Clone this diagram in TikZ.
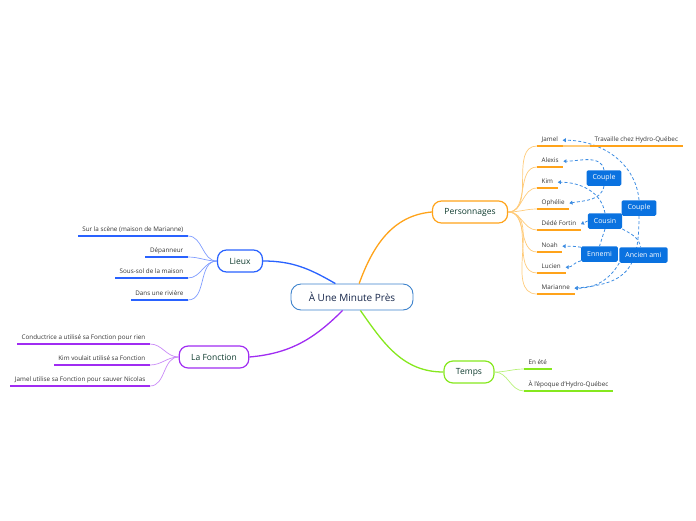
\documentclass[tikz,border=0pt]{standalone}
\usepackage{fontspec}
\setmainfont{Open Sans}
\usetikzlibrary{arrows.meta}
\usetikzlibrary{backgrounds}

\definecolor{maincol}{HTML}{3C82CC}
\definecolor{roottxt}{HTML}{16264A}
\definecolor{toptxt}{HTML}{0E3B2E}
\definecolor{subtxt}{HTML}{333333}
\definecolor{orgcol}{HTML}{FFA31A}
\definecolor{orglight}{HTML}{FFCB7A}
\definecolor{bluecol}{HTML}{2962FF}
\definecolor{bluelight}{HTML}{7F9CFF}
\definecolor{purcol}{HTML}{A02CF2}
\definecolor{purlight}{HTML}{C98AF7}
\definecolor{grncol}{HTML}{86E81E}
\definecolor{grnlight}{HTML}{B8F27A}
\definecolor{relcol}{HTML}{0A72E0}
\definecolor{rellink}{HTML}{3C8CE2}

\begin{document}
\begin{tikzpicture}
			[x=1pt, y=-1pt,
			root/.style = {draw=maincol, line width=0.9pt, rounded corners=10pt, fill=white, text=roottxt, font=\fontsize{10}{12}\selectfont, minimum width=122pt, minimum height=26pt},
			topic/.style = {draw=#1, line width=1.2pt, rounded corners=9pt, fill=white, text=toptxt, font=\fontsize{8.5}{10}\selectfont, minimum height=22pt, inner xsep=12pt},
			sub/.style = {font=\fontsize{6.3}{7}\selectfont, text=subtxt, inner xsep=4.5pt, inner ysep=2.5pt, text height=4.7pt, text depth=1.5pt},
			ln/.style = {line width=1.6pt, #1},
			fan/.style = {line width=0.7pt, #1},
			branch/.style = {line width=1.3pt, #1},
			rel/.style = {fill=relcol, text=white, rounded corners=1.5pt, font=\fontsize{7}{8}\selectfont, inner xsep=6pt, minimum height=15.5pt},
			relline/.style = {rellink, line width=0.8pt, dash pattern=on 3pt off 2.2pt},
			relarrow/.style = {relline, -{Triangle[length=3.2pt,width=3.8pt]}}]
			\useasboundingbox (0,0) rectangle (696,520);
			% centre et branches
			\node[root] (root) at (352,297) {À Une Minute Près};
			\node[topic=orgcol] (pers) at (470,212) {Personnages};
			\node[topic=bluecol] (lieux) at (240,261) {Lieux};
			\node[topic=purcol] (fonction) at (214,357) {La Fonction};
			\node[topic=grncol] (temps) at (469,372) {Temps};
			\draw[branch=orgcol] (root.62) to[out=70,in=185] (pers.west);
			\draw[branch=bluecol] (root.141) to[out=150,in=0] (lieux.east);
			\draw[branch=purcol] (root.235) to[out=225,in=5] (fonction.east);
			\draw[branch=grncol] (root.302) to[out=-55,in=180] (temps.west);
			% Personnages
			\node[sub, anchor=south west] (jamel) at (537,146) {Jamel};
			\node[sub, anchor=south west] (alexis) at (537,167) {Alexis};
			\node[sub, anchor=south west] (kim) at (537,188) {Kim};
			\node[sub, anchor=south west] (ophelie) at (537,209) {Ophélie};
			\node[sub, anchor=south west] (dede) at (537,230) {Dédé Fortin};
			\node[sub, anchor=south west] (noah) at (537,252) {Noah};
			\node[sub, anchor=south west] (lucien) at (537,273) {Lucien};
			\node[sub, anchor=south west] (marianne) at (537,294) {Marianne};
			\node[sub, anchor=south west] (travaille) at (590,146) {Travaille chez Hydro-Québec};
			\foreach \n in {jamel,alexis,kim,ophelie,dede,noah,lucien,marianne} {
				\draw[fan=orglight] (pers.east) to[out=0,in=180] (\n.south west);
				\draw[ln=orgcol] (\n.south west) -- (\n.south east);
			}
			\draw[ln=orglight] (jamel.south east) -- (travaille.south west);
			\draw[ln=orgcol] (travaille.south west) -- (travaille.south east);
			% Lieux
			\node[sub, anchor=south east] (scene) at (188,236) {Sur la scène (maison de Marianne)};
			\node[sub, anchor=south east] (depanneur) at (188,257) {Dépanneur};
			\node[sub, anchor=south east] (soussol) at (188,278) {Sous-sol de la maison};
			\node[sub, anchor=south east] (riviere) at (188,300) {Dans une rivière};
			\foreach \n in {scene,depanneur,soussol,riviere} {
				\draw[fan=bluelight] (lieux.west) to[out=180,in=0] (\n.south east);
				\draw[ln=bluecol] (\n.south east) -- (\n.south west);
			}
			% La Fonction
			\node[sub, anchor=south east] (conductrice) at (150,344) {Conductrice a utilisé sa Fonction pour rien};
			\node[sub, anchor=south east] (kimf) at (150,365) {Kim voulait utilisé sa Fonction};
			\node[sub, anchor=south east] (jamelf) at (150,386) {Jamel utilise sa Fonction pour sauver Nicolas};
			\foreach \n in {conductrice,kimf,jamelf} {
				\draw[fan=purlight] (fonction.west) to[out=180,in=0] (\n.south east);
				\draw[ln=purcol] (\n.south east) -- (\n.south west);
			}
			% Temps
			\node[sub, anchor=south west] (ete) at (524,369) {En été};
			\node[sub, anchor=south west] (epoque) at (524,391) {À l'époque d'Hydro-Québec};
			\foreach \n in {ete,epoque} {
				\draw[fan=grnlight] (temps.east) to[out=0,in=180] (\n.south west);
				\draw[ln=grncol] (\n.south west) -- (\n.south east);
			}
			% relations
			\node[rel] (couple1) at (604,178) {Couple};
			\node[rel] (couple2) at (639,208) {Couple};
			\node[rel] (cousin) at (605,221) {Cousin};
			\node[rel] (ennemi) at (599.5,254) {Ennemi};
			\node[rel] (ancien) at (643.5,255) {Ancien ami};
			\begin{scope}[on background layer]
				\draw[relarrow] (couple1.north) to[out=100,in=0] (alexis.east);
				\draw[relarrow] (couple1.south) to[out=-100,in=10] (ophelie.east);
				\draw[relarrow] (couple2.north) to[out=95,in=0] (jamel.east);
				\draw[relarrow] (couple2.south) to[out=-90,in=5,looseness=1.4] (marianne.east);
				\draw[relarrow] (cousin.north) to[out=100,in=0] (kim.east);
				\draw[relarrow] (cousin.west) -- (dede.east);
				\draw[relline] (cousin.south) -- (ennemi.north);
				\draw[relarrow] (ennemi.160) to[out=170,in=0] (noah.east);
				\draw[relarrow] (ennemi.200) to[out=190,in=0] (lucien.east);
				\draw[relline] (cousin.south east) to[out=-30,in=100] (ancien.110);
				\draw[relarrow] (ancien.south west) to[out=-120,in=0] (marianne.east);
			\end{scope}
\end{tikzpicture}
\end{document}
